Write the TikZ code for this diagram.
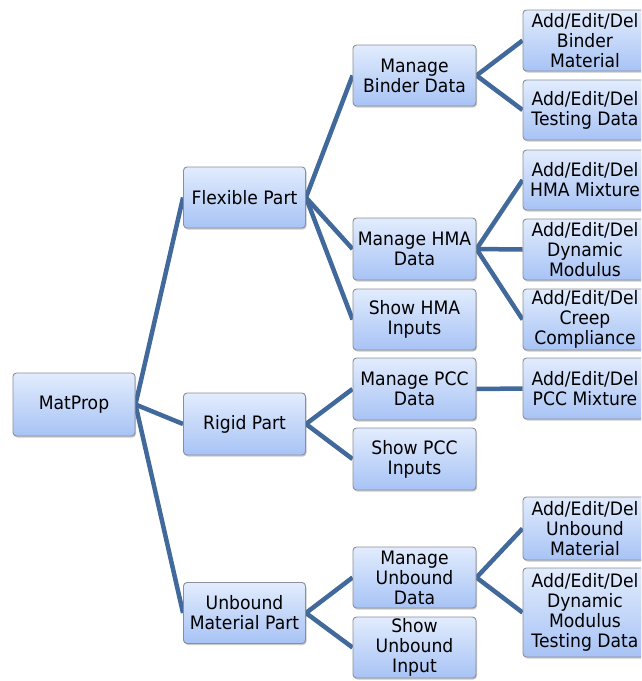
\documentclass[tikz,border=0pt]{standalone}
\usepackage{fontspec}
\setmainfont{DejaVu Sans}[FakeStretch=0.93]
\usetikzlibrary{shadows,backgrounds}
\definecolor{linkblue}{HTML}{41699C}
\definecolor{boxtop}{HTML}{E2ECFD}
\definecolor{boxbot}{HTML}{A7C3F5}
\definecolor{boxedge}{HTML}{8A8F99}
\tikzset{
  mbox/.style={rectangle, rounded corners=3.5pt, draw=boxedge, line width=0.9pt,
    top color=boxtop, bottom color=boxbot, inner sep=0pt, align=center,
    font=\fontsize{18.5}{20}\selectfont, text=black,
    drop shadow={shadow xshift=1pt, shadow yshift=-1.5pt, opacity=0.35, fill=black!60}},
  link/.style={draw=linkblue, line width=4.5pt}
}
\begin{document}
\begin{tikzpicture}[x=1pt,y=-1pt]
\useasboundingbox (0,0) rectangle (641,681);
\clip (0,0) rectangle (641,681);
% level 0
\node[mbox, minimum width=122pt, minimum height=63pt] (mat) at (74,404.5) {MatProp};
% level 1
\node[mbox, minimum width=122pt, minimum height=61pt] (flex) at (244.5,197.5) {Flexible Part};
\node[mbox, minimum width=122pt, minimum height=62pt] (rigid) at (244.5,424) {Rigid Part};
\node[mbox, minimum width=122pt, minimum height=61pt] (unb) at (244.5,613) {Unbound\\Material Part};
% level 2
\node[mbox, minimum width=123pt, minimum height=61pt] (binder) at (414.5,75.5) {Manage\\Binder Data};
\node[mbox, minimum width=123pt, minimum height=62pt] (hma) at (414.5,249) {Manage HMA\\Data};
\node[mbox, minimum width=123pt, minimum height=61pt] (showhma) at (414.5,319.5) {Show HMA\\Inputs};
\node[mbox, minimum width=123pt, minimum height=62pt] (pcc) at (414.5,389) {Manage PCC\\Data};
\node[mbox, minimum width=123pt, minimum height=62pt] (showpcc) at (414.5,459) {Show PCC\\Inputs};
\node[mbox, minimum width=123pt, minimum height=61pt] (munb) at (414.5,577.5) {Manage\\Unbound\\Data};
\node[mbox, minimum width=123pt, minimum height=61pt] (showunb) at (414.5,647.5) {Show\\Unbound\\Input};
% level 3
\node[mbox, minimum width=124pt, minimum height=61pt] (l1) at (585,40.5) {Add/Edit/Del\\Binder\\Material};
\node[mbox, minimum width=124pt, minimum height=60pt] (l2) at (585,110) {Add/Edit/Del\\Testing Data};
\node[mbox, minimum width=124pt, minimum height=60pt] (l3) at (585,180) {Add/Edit/Del\\HMA Mixture};
\node[mbox, minimum width=124pt, minimum height=61pt] (l4) at (585,249.5) {Add/Edit/Del\\Dynamic\\Modulus};
\node[mbox, minimum width=124pt, minimum height=61pt] (l5) at (585,319.5) {Add/Edit/Del\\Creep\\Compliance};
\node[mbox, minimum width=124pt, minimum height=61pt] (l6) at (585,388.5) {Add/Edit/Del\\PCC Mixture};
\node[mbox, minimum width=124pt, minimum height=63pt] (l7) at (585,528.5) {Add/Edit/Del\\Unbound\\Material};
\node[mbox, minimum width=124pt, minimum height=89pt] (l8) at (585,612.5) {Add/Edit/Del\\Dynamic\\Modulus\\Testing Data};
% connectors
\begin{scope}[on background layer]
\draw[link] (mat.east) -- (flex.west);
\draw[link] (mat.east) -- (rigid.west);
\draw[link] (mat.east) -- (unb.west);
\draw[link] (flex.east) -- (binder.west);
\draw[link] (flex.east) -- (hma.west);
\draw[link] (flex.east) -- (showhma.west);
\draw[link] (rigid.east) -- (pcc.west);
\draw[link] (rigid.east) -- (showpcc.west);
\draw[link] (unb.east) -- (munb.west);
\draw[link] (unb.east) -- (showunb.west);
\draw[link] (binder.east) -- (l1.west);
\draw[link] (binder.east) -- (l2.west);
\draw[link] (hma.east) -- (l3.west);
\draw[link] (hma.east) -- (l4.west);
\draw[link] (hma.east) -- (l5.west);
\draw[link] (pcc.east) -- (l6.west);
\draw[link] (munb.east) -- (l7.west);
\draw[link] (munb.east) -- (l8.west);
\end{scope}
\end{tikzpicture}
\end{document}
